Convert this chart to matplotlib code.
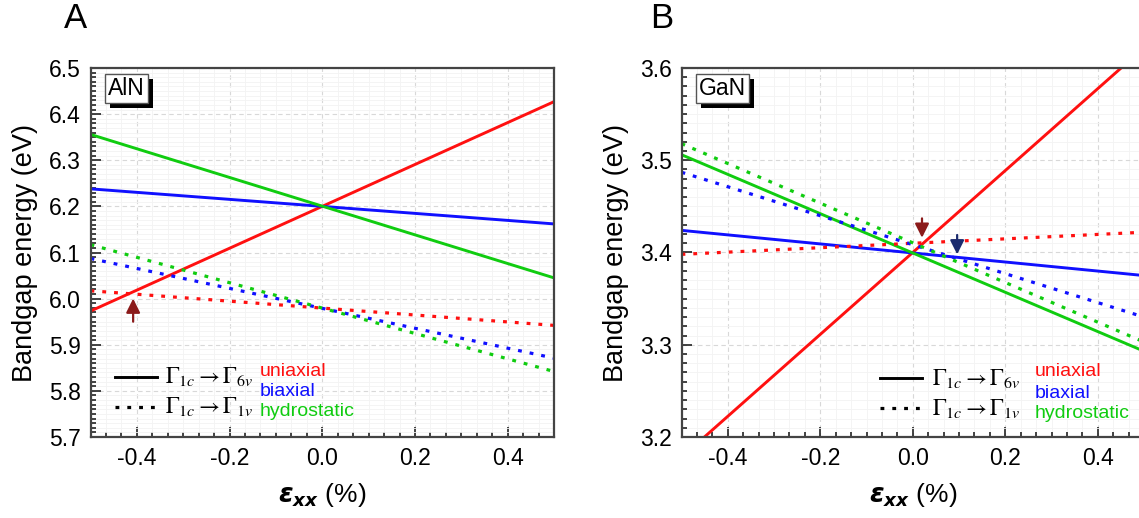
import matplotlib
matplotlib.use("Agg")
import matplotlib.pyplot as plt
from matplotlib.ticker import MultipleLocator, FormatStrFormatter
from matplotlib.lines import Line2D
import matplotlib.patheffects as pe

plt.rcParams['font.family'] = ['Liberation Sans', 'DejaVu Sans']
plt.rcParams['mathtext.fontset'] = 'custom'
plt.rcParams['mathtext.bf'] = 'DejaVu Sans:italic:bold'
plt.rcParams['mathtext.it'] = 'DejaVu Sans:italic'
plt.rcParams['mathtext.rm'] = 'DejaVu Sans'

# ---- data ----
strain = [-0.5, 0.5]

aln_uni_g6 = [5.973, 6.427]
aln_bi_g6 = [6.238, 6.162]
aln_hyd_g6 = [6.356, 6.045]
aln_uni_g1 = [6.017, 5.942]
aln_bi_g1 = [6.087, 5.871]
aln_hyd_g1 = [6.117, 5.842]

gan_uni_g6 = [3.178, 3.622]
gan_bi_g6 = [3.424, 3.375]
gan_hyd_g6 = [3.506, 3.293]
gan_uni_g1 = [3.398, 3.422]
gan_bi_g1 = [3.487, 3.330]
gan_hyd_g1 = [3.518, 3.303]

aln_arrows = [((-0.408, 5.950), (-0.408, 6.000), '#8b1a1a')]
gan_arrows = [((0.020, 3.437), (0.020, 3.416), '#8b1a1a'),
              ((0.096, 3.419), (0.096, 3.398), '#1a2a6e')]

strain_labels = ['uniaxial', 'biaxial', 'hydrostatic']
colors = ['#ff1010', '#1010ff', '#10cc10']

W, H = 1139, 518
fig = plt.figure(figsize=(W / 100, H / 100), dpi=100)

def px_axes(l, r, t, b):
    return fig.add_axes([l / W, 1 - b / H, (r - l) / W, (b - t) / H])

axA = px_axes(90.5, 554, 68, 437)
axB = px_axes(681.5, 1144, 68, 437)

dot = (0, (1.2, 2.5))

def style(ax, ylim, ymaj):
    ax.set_xlim(-0.5, 0.5)
    ax.set_ylim(*ylim)
    ax.xaxis.set_major_locator(MultipleLocator(0.2))
    ax.xaxis.set_minor_locator(MultipleLocator(0.2 / 6))
    ax.yaxis.set_major_locator(MultipleLocator(ymaj))
    ax.yaxis.set_minor_locator(MultipleLocator(0.01))
    ax.xaxis.set_major_formatter(FormatStrFormatter('%.1f'))
    ax.yaxis.set_major_formatter(FormatStrFormatter('%.1f'))
    ax.grid(which='major', color='#d8d8d8', linestyle=(0, (4, 3)), linewidth=0.8)
    ax.grid(which='minor', color='#f3f3f3', linestyle='-', linewidth=0.6)
    ax.set_axisbelow(True)
    ax.tick_params(which='both', direction='in', top=False, right=False,
                   labelsize=16.5, width=1.2, colors='#222222', labelcolor='black')
    ax.tick_params(which='major', length=7, pad=7)
    ax.tick_params(which='minor', length=3.5)
    for s in ax.spines.values():
        s.set_color('#444444')
        s.set_linewidth(1.6)
    ax.set_ylabel('Bandgap energy (eV)', fontsize=19.5, labelpad=8)
    ax.set_xlabel(r'$\mathbf{\epsilon_{xx}}$ (%)', fontsize=19, labelpad=8)

def draw(ax, g6, g1):
    for vals, c in zip(g6, colors):
        ax.plot(strain, vals, color=c, lw=2.1, solid_capstyle='butt')
    for vals, c in zip(g1, colors):
        ax.plot(strain, vals, color=c, lw=2.3, linestyle=dot, dash_capstyle='butt')

def sample_box(ax, text):
    t = ax.text(0.038, 0.976, text, transform=ax.transAxes, color='black',
                fontsize=16.5, ha='left', va='top', zorder=10,
                bbox=dict(boxstyle='square,pad=0.12', facecolor='white',
                          edgecolor='#555555', lw=1.0))
    t.get_bbox_patch().set_path_effects([
        pe.SimplePatchShadow(offset=(3.6, -3.6), shadow_rgbFace='black', alpha=1.0),
        pe.Normal()])

def legend(x0, x1, xt, xw, y1, y2, yw):
    tr = fig.transFigure
    def fx(x): return x / W
    def fy(y): return 1 - y / H
    fig.add_artist(Line2D([fx(x0), fx(x1)], [fy(y1), fy(y1)], color='black', lw=2.1, transform=tr))
    fig.add_artist(Line2D([fx(x0), fx(x1)], [fy(y2), fy(y2)], color='black', lw=2.3,
                          linestyle=dot, transform=tr))
    fig.text(fx(xt), fy(y1), r'$\Gamma_{1c}\rightarrow\Gamma_{6v}$', fontsize=16.5,
             math_fontfamily='stix', ha='left', va='center')
    fig.text(fx(xt), fy(y2), r'$\Gamma_{1c}\rightarrow\Gamma_{1v}$', fontsize=16.5,
             math_fontfamily='stix', ha='left', va='center')
    for lab, c, y in zip(strain_labels, colors, yw):
        fig.text(fx(xw), fy(y), lab, color=c, fontsize=14, ha='left', va='center')

def arrows(ax, arr):
    for tail, tip, c in arr:
        ax.annotate('', xy=tip, xytext=tail,
                    arrowprops=dict(arrowstyle='-|>,head_length=0.6,head_width=0.3',
                                    color=c, lw=1.6, shrinkA=0, shrinkB=0, mutation_scale=14))

style(axA, (5.7, 6.5), 0.1)
style(axB, (3.2, 3.6), 0.1)
draw(axA, [aln_uni_g6, aln_bi_g6, aln_hyd_g6], [aln_uni_g1, aln_bi_g1, aln_hyd_g1])
draw(axB, [gan_uni_g6, gan_bi_g6, gan_hyd_g6], [gan_uni_g1, gan_bi_g1, gan_hyd_g1])
sample_box(axA, 'AlN')
sample_box(axB, 'GaN')
arrows(axA, aln_arrows)
arrows(axB, gan_arrows)
legend(115, 157, 165, 260, 377, 407, [371, 391, 411])
legend(880, 922, 932, 1035, 378, 408, [372, 393, 413])

fig.text(75 / W, 1 - 19 / H, 'A', fontsize=25, ha='center', va='center')
fig.text(662 / W, 1 - 19 / H, 'B', fontsize=25, ha='center', va='center')

fig.savefig('out.png', dpi=100)
